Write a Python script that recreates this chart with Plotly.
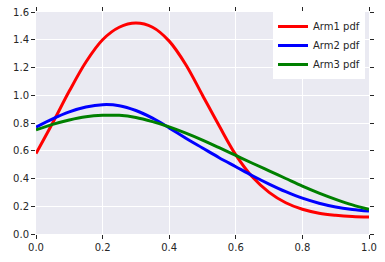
import plotly.graph_objects as go

x_vals = [0.0, 0.05, 0.1, 0.15, 0.2, 0.25, 0.3, 0.35, 0.4, 0.45, 0.5,
          0.55, 0.6, 0.65, 0.7, 0.75, 0.8, 0.85, 0.9, 0.95, 1.0]
arm1_pdf = [0.58, 0.80, 1.03, 1.24, 1.40, 1.49, 1.52, 1.49, 1.39, 1.22, 1.00,
            0.78, 0.57, 0.41, 0.30, 0.225, 0.178, 0.150, 0.135, 0.126, 0.122]
arm2_pdf = [0.77, 0.83, 0.88, 0.915, 0.932, 0.925, 0.89, 0.835, 0.765, 0.69, 0.62,
            0.55, 0.485, 0.42, 0.36, 0.305, 0.258, 0.222, 0.195, 0.177, 0.165]
arm3_pdf = [0.75, 0.79, 0.822, 0.845, 0.855, 0.855, 0.84, 0.81, 0.772, 0.727, 0.677,
            0.622, 0.566, 0.51, 0.455, 0.40, 0.345, 0.295, 0.25, 0.21, 0.178]
series_names = ["Arm1 pdf", "Arm2 pdf", "Arm3 pdf"]
series_colors = ["#ff0000", "#0000ff", "#008000"]
x_ticks = [0.0, 0.2, 0.4, 0.6, 0.8, 1.0]
y_ticks = [0.0, 0.2, 0.4, 0.6, 0.8, 1.0, 1.2, 1.4, 1.6]

FONT = "DejaVu Sans, sans-serif"

fig = go.Figure()
for name, ys, col in zip(series_names, [arm1_pdf, arm2_pdf, arm3_pdf], series_colors):
    fig.add_trace(go.Scatter(x=x_vals, y=ys, mode="lines", name=name,
                             line=dict(color=col, width=3, shape="spline", smoothing=1.0)))

axis_common = dict(showgrid=True, gridcolor="white", gridwidth=1, zeroline=False,
                   showline=False, ticks="outside", ticklen=4, tickwidth=1,
                   tickcolor="#262626", mirror="ticks", automargin=False,
                   tickfont=dict(family=FONT, size=10, color="#262626"))

fig.update_layout(
    width=385, height=262,
    margin=dict(l=36, r=16, t=12, b=28, pad=0),
    paper_bgcolor="white", plot_bgcolor="#EAEAF2",
    showlegend=True,
    legend=dict(x=0.988, y=1.0, xanchor="right", yanchor="top",
                bgcolor="white", borderwidth=0, itemwidth=30,
                font=dict(family=FONT, size=10, color="#262626"),
                tracegroupgap=0),
    xaxis=dict(range=[0, 1], tickvals=x_ticks, ticktext=[f"{v:.1f}" for v in x_ticks], **axis_common),
    yaxis=dict(range=[0, 1.6], tickvals=y_ticks, ticktext=[f"{v:.1f}" for v in y_ticks], **axis_common),
)

fig.write_html("out.html", config={"displayModeBar": False},
               post_script="document.body.style.margin='0';")
